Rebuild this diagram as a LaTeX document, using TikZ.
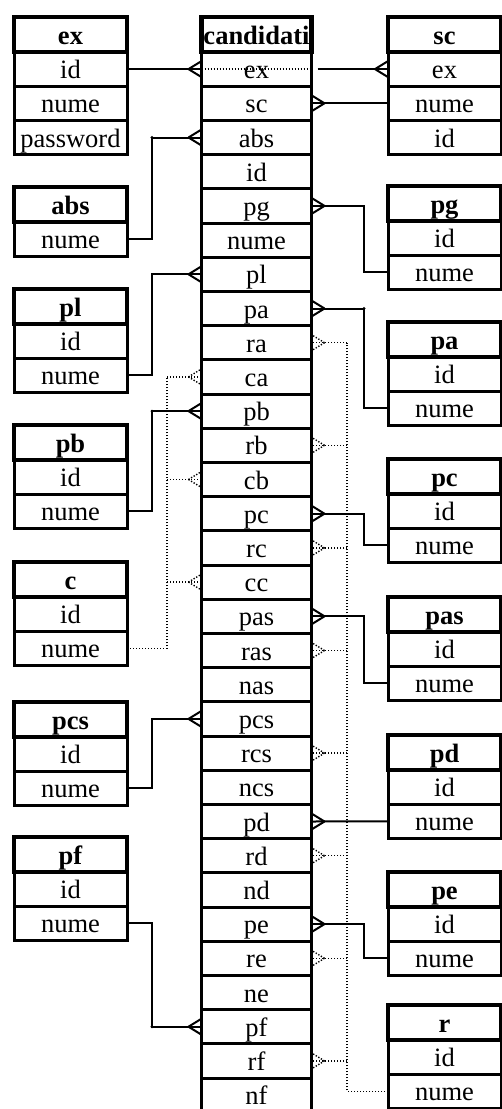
\documentclass[tikz,border=0pt]{standalone}
\usepackage{fontspec}
\setmainfont{Liberation Serif}
\newcommand\erbox[4]{%
  \foreach \f [count=\i from 0] in {#4}
    \node[cell] (#1-\f) at (#2,#3+35+34.2*\i) {\f};
  \node[hdr] (#1) at (#2,#3) {#1};
}
\begin{document}
\begin{tikzpicture}[x=1pt,y=-1pt,
  every node/.style={inner sep=0pt, outer sep=0pt, font=\fontsize{26.5}{30}\selectfont, text height=20pt, text depth=0.8pt},
  hdr/.style={draw, line width=4.5pt, minimum width=113pt, minimum height=35pt, anchor=north west, font=\fontsize{26.5}{30}\selectfont\bfseries},
  cell/.style={draw, line width=3pt, minimum width=113pt, minimum height=34.2pt, anchor=north west},
  conn/.style={line width=2pt},
  dconn/.style={line width=1.4pt, dash pattern=on 1.3pt off 1.7pt},
  pics/crowL/.style={code={\draw (-13,0) -- (0,-8) (-13,0) -- (0,8);}},
  pics/crowR/.style={code={\draw (13,0) -- (0,-8) (13,0) -- (0,8);}},
  cornerdot/.style={fill=black}
]
\useasboundingbox (0,0) rectangle (502,1109);
\fill[white] (0,0) rectangle (502,1109);
\clip (0,0) rectangle (502,1109);

% central table
\foreach \f [count=\i from 0] in {ex,sc,abs,id,pg,nume,pl,pa,ra,ca,pb,rb,cb,pc,rc,cc,pas,ras,nas,pcs,rcs,ncs,pd,rd,nd,pe,re,ne,pf,rf,nf}
  \node[cell, minimum width=110pt] (cand-\f) at (201.5,52+34.2*\i) {\f};
\node[hdr, minimum width=110pt] (cand) at (201.5,17) {candidati};

% left tables
\erbox{ex}{14}{17}{id,nume,password}
\erbox{abs}{14}{187}{nume}
\erbox{pl}{14}{289}{id,nume}
\erbox{pb}{14}{425}{id,nume}
\erbox{c}{14}{562}{id,nume}
\erbox{pcs}{14}{702}{id,nume}
\erbox{pf}{14}{837}{id,nume}

% right tables
\erbox{sc}{388}{17}{ex,nume,id}
\erbox{pg}{388}{186}{id,nume}
\erbox{pa}{388}{322}{id,nume}
\erbox{pc}{388}{459}{id,nume}
\erbox{pas}{388}{597}{id,nume}
\erbox{pd}{388}{735}{id,nume}
\erbox{pe}{388}{872}{id,nume}
\erbox{r}{388}{1005}{id,nume}

% routing columns
\coordinate (lx) at (152,0);
\coordinate (ldx) at (167,0);
\coordinate (rx) at (364,0);
\coordinate (rdx) at (347,0);

% ex
\draw[conn] (ex-id.east) -- (cand-ex.west);
\pic[conn] at (cand-ex.west) {crowL};
\draw[dconn] (cand-ex.west) -- (cand-ex.east);
\draw[conn] ([xshift=6pt]cand-ex.east) -- (sc-ex.west);
\pic[conn] at (sc-ex.west) {crowL};

% sc
\draw[conn] (cand-sc.east) -- (sc-nume.west);
\pic[conn] at (cand-sc.east) {crowR};

% left solid links
\foreach \t/\f in {abs/abs,pl/pl,pb/pb,pcs/pcs,pf/pf} {
  \draw[conn] (\t-nume.east) -- (\t-nume.east -| lx) |- (cand-\f.west);
  \pic[conn] at (cand-\f.west) {crowL};
}
\fill[cornerdot] (cand-abs.west -| lx) circle (1.6);
\fill[cornerdot] (cand-pb.west -| lx) circle (1.6);
\fill[cornerdot] (cand-pf.west -| lx) circle (1.6);

% right solid links
\foreach \t in {pg,pa,pc,pas,pe} {
  \draw[conn] (cand-\t.east) -- (cand-\t.east -| rx) |- (\t-nume.west);
  \pic[conn] at (cand-\t.east) {crowR};
}
\fill[cornerdot] (cand-pa.east -| rx) circle (1.6);
\draw[conn] (cand-pd.east) -- (pd-nume.west);
\pic[conn] at (cand-pd.east) {crowR};

% dotted c links
\draw[dconn] (c-nume.east) -- (c-nume.east -| ldx) -- (cand-ca.west -| ldx);
\foreach \f in {ca,cb,cc} {
  \draw[dconn] (cand-\f.west -| ldx) -- (cand-\f.west);
  \pic[dconn] at (cand-\f.west) {crowL};
}

% dotted r links
\draw[dconn] (r-nume.west) -- (r-nume.west -| rdx) -- (cand-ra.east -| rdx);
\foreach \f in {ra,rb,rc,ras,rcs,rd,re,rf} {
  \draw[dconn] (cand-\f.east -| rdx) -- (cand-\f.east);
  \pic[dconn] at (cand-\f.east) {crowR};
}
\end{tikzpicture}
\end{document}
